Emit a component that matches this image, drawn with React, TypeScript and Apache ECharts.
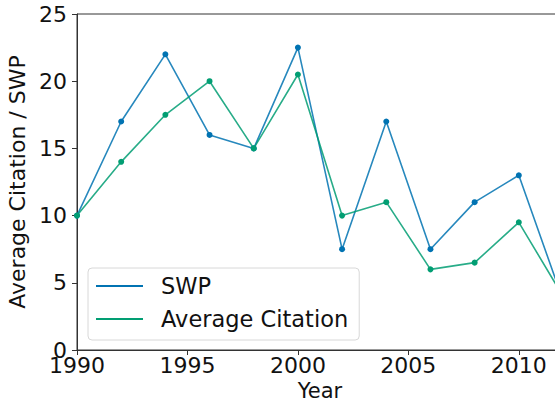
import React, { useEffect, useRef } from "react";
import * as echarts from "echarts";

const years = [1990, 1992, 1994, 1996, 1998, 2000, 2002, 2004, 2006, 2008, 2010, 2012];
const swp = [10, 17, 22, 16, 15, 22.5, 7.5, 17, 7.5, 11, 13, 3.7];
const avgCitation = [10, 14, 17.5, 20, 15, 20.5, 10, 11, 6, 6.5, 9.5, 4];
const seriesNames = ["SWP", "Average Citation"];
const colors = ["#0173B2", "#029E73"];

const FONT = "DejaVu Sans";

export default function App() {
  const ref = useRef<HTMLDivElement>(null);
  useEffect(() => {
    if (!ref.current) return;
    const chart = echarts.init(ref.current, undefined, { renderer: "svg" });
    const mk = (name: string, vals: number[], color: string) => ({
      name,
      type: "line",
      data: years.map((y, i) => [y, vals[i]]),
      symbol: "circle",
      symbolSize: 6,
      showSymbol: true,
      clip: true,
      itemStyle: { color },
      lineStyle: { color, width: 1.6, opacity: 0.85 },
      emphasis: { disabled: true },
    });
    chart.setOption({
      animation: false,
      textStyle: { fontFamily: FONT },
      grid: {
        left: 77,
        top: 14,
        height: 336,
        width: 486,
        containLabel: false,
        outerBoundsMode: "none",
        show: true,
        borderColor: "#333",
        borderWidth: 1,
        backgroundColor: "transparent",
      },
      xAxis: {
        type: "value",
        min: 1990,
        max: 2012,
        interval: 5,
        splitLine: { show: false },
        axisLine: { show: true, onZero: false, lineStyle: { color: "#333", width: 1 } },
        axisTick: { show: true, length: 5, lineStyle: { color: "#333" } },
        axisLabel: {
          fontSize: 22,
          color: "#111",
          margin: 4,
          fontFamily: FONT,
          showMaxLabel: false,
          formatter: (v: number) => (v % 5 === 0 ? String(v) : ""),
        },
        name: "Year",
        nameLocation: "middle",
        nameGap: 30,
        nameTextStyle: { fontSize: 21, color: "#111", fontFamily: FONT },
      },
      yAxis: {
        type: "value",
        min: 0,
        max: 25,
        interval: 5,
        splitLine: { show: false },
        axisLine: { show: true, lineStyle: { color: "#333", width: 1 } },
        axisTick: { show: true, length: 5, lineStyle: { color: "#333" } },
        axisLabel: { fontSize: 22, color: "#111", margin: 10, fontFamily: FONT },
        name: "Average Citation / SWP",
        nameLocation: "middle",
        nameRotate: 90,
        nameGap: 40,
        nameTextStyle: { fontSize: 22, color: "#111", fontFamily: FONT },
      },
      legend: {
        show: true,
        orient: "vertical",
        left: 88,
        top: 268,
        data: seriesNames.map((n) => ({ name: n, icon: "rect" })),
        itemWidth: 47,
        itemHeight: 2,
        itemGap: 7,
        padding: [5, 11, 8, 8],
        backgroundColor: "rgba(255,255,255,0.8)",
        borderColor: "#d8d8d8",
        borderWidth: 1,
        borderRadius: 4,
        textStyle: { fontSize: 22.5, color: "#111", fontFamily: FONT, lineHeight: 26, padding: [0, 0, 0, 13] },
        selectedMode: false,
      },
      series: [mk(seriesNames[0], swp, colors[0]), mk(seriesNames[1], avgCitation, colors[1])],
    });
    return () => chart.dispose();
  }, []);
  return <div ref={ref} style={{ width: 555, height: 404, position: "absolute", left: 0, top: 0 }} />;
}
